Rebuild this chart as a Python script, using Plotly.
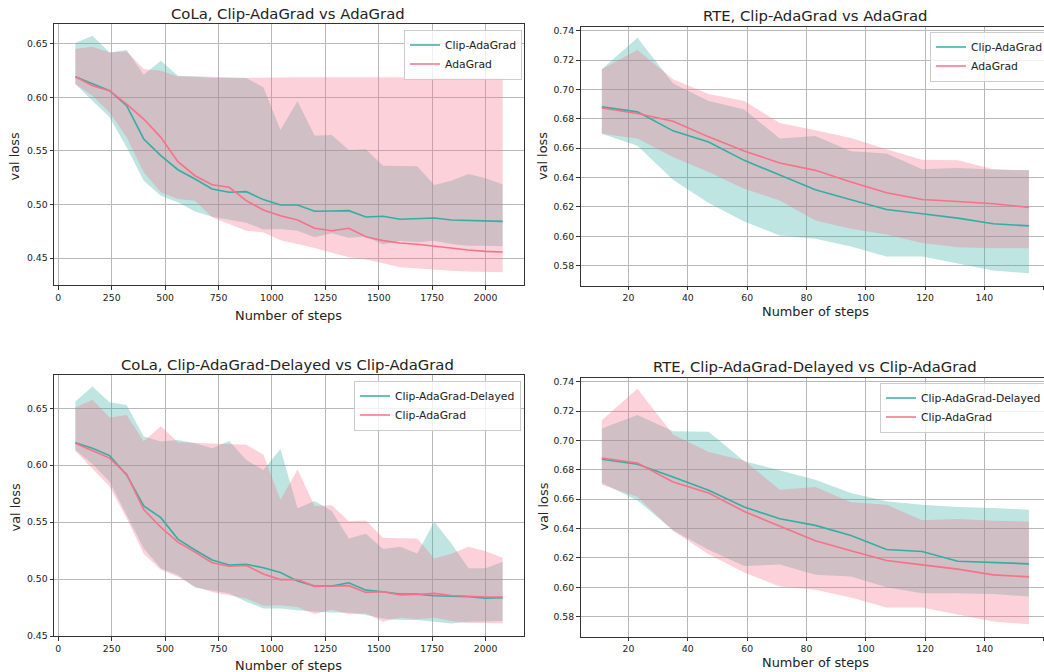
import plotly.graph_objects as go

# ---------------- data ----------------
cola_steps = [80, 160, 240, 320, 400, 480, 560, 640, 720, 800, 880, 960, 1040,
              1120, 1200, 1280, 1360, 1440, 1520, 1600, 1680, 1760, 1840, 1920, 2000, 2080]

cola_clip_mean = [0.6192, 0.6124, 0.6062, 0.5921, 0.5611, 0.5455, 0.5324, 0.5237, 0.5144, 0.5113, 0.5119, 0.5045, 0.4995,
                  0.4995, 0.4936, 0.4939, 0.4942, 0.4883, 0.4889, 0.4861, 0.4864, 0.4874, 0.4855, 0.4849, 0.4842, 0.4842]
cola_clip_hi = [0.6506, 0.6575, 0.6419, 0.6441, 0.6211, 0.6341, 0.6201, 0.6195, 0.6186, 0.6180, 0.6180, 0.6093, 0.5695,
                0.5962, 0.5642, 0.5648, 0.5508, 0.5514, 0.5362, 0.5359, 0.5356, 0.5181, 0.5222, 0.5284, 0.5244, 0.5188]
cola_clip_lo = [0.6124, 0.5968, 0.5813, 0.5533, 0.5222, 0.5082, 0.5020, 0.4933, 0.4886, 0.4855, 0.4830, 0.4765, 0.4770,
                0.4755, 0.4693, 0.4730, 0.4690, 0.4700, 0.4625, 0.4660, 0.4647, 0.4660, 0.4631, 0.4615, 0.4615, 0.4610]

cola_ada_mean = [0.6192, 0.6108, 0.6062, 0.5937, 0.5797, 0.5626, 0.5399, 0.5268, 0.5184, 0.5160, 0.5035, 0.4948, 0.4895,
                 0.4855, 0.4777, 0.4755, 0.4777, 0.4699, 0.4662, 0.4640, 0.4628, 0.4609, 0.4590, 0.4575, 0.4562, 0.4556]
cola_ada_hi = [0.6450, 0.6472, 0.6419, 0.6428, 0.6264, 0.6248, 0.6195, 0.6192, 0.6180, 0.6180, 0.6180, 0.6185, 0.6185,
               0.6188, 0.6185, 0.6185, 0.6186, 0.6186, 0.6186, 0.6186, 0.6186, 0.6186, 0.6185, 0.6185, 0.6185, 0.6185]
cola_ada_lo = [0.6124, 0.6015, 0.5859, 0.5626, 0.5300, 0.5113, 0.5051, 0.5035, 0.4880, 0.4817, 0.4755, 0.4740, 0.4665,
               0.4631, 0.4593, 0.4553, 0.4507, 0.4485, 0.4450, 0.4413, 0.4398, 0.4392, 0.4382, 0.4373, 0.4367, 0.4367]

cola_del_mean = [0.6198, 0.6148, 0.6084, 0.5914, 0.5642, 0.5539, 0.5351, 0.5255, 0.5167, 0.5123, 0.5129, 0.5100, 0.5058,
                 0.4982, 0.4938, 0.4938, 0.4968, 0.4903, 0.4889, 0.4868, 0.4868, 0.4853, 0.4850, 0.4845, 0.4833, 0.4836]
cola_del_hi = [0.6559, 0.6690, 0.6553, 0.6529, 0.6251, 0.6207, 0.6222, 0.6192, 0.6148, 0.6213, 0.6046, 0.5958, 0.6143,
               0.5621, 0.5685, 0.5598, 0.5357, 0.5398, 0.5264, 0.5284, 0.5225, 0.5504, 0.5313, 0.5094, 0.5094, 0.5152]
cola_del_lo = [0.6134, 0.6010, 0.5855, 0.5562, 0.5270, 0.5094, 0.5035, 0.4925, 0.4900, 0.4874, 0.4801, 0.4742, 0.4742,
               0.4727, 0.4713, 0.4707, 0.4707, 0.4684, 0.4654, 0.4640, 0.4640, 0.4625, 0.4610, 0.4625, 0.4625, 0.4631]

rte_steps = [11, 23, 35, 47, 59, 71, 83, 95, 107, 119, 131, 143, 155]

rte_clip_mean = [0.6881, 0.6847, 0.6718, 0.6642, 0.6517, 0.6415, 0.6317, 0.6249, 0.6183, 0.6153, 0.6124, 0.6085, 0.6071]
rte_clip_hi = [0.7138, 0.7352, 0.7041, 0.6922, 0.6863, 0.6665, 0.6683, 0.6579, 0.6563, 0.6456, 0.6465, 0.6454, 0.6449]
rte_clip_lo = [0.6699, 0.6617, 0.6385, 0.6226, 0.6101, 0.6005, 0.5983, 0.5930, 0.5862, 0.5862, 0.5817, 0.5767, 0.5748]

rte_ada_mean = [0.6874, 0.6836, 0.6783, 0.6677, 0.6581, 0.6499, 0.6449, 0.6369, 0.6297, 0.6251, 0.6237, 0.6222, 0.6197]
rte_ada_hi = [0.7138, 0.7268, 0.7070, 0.6968, 0.6922, 0.6772, 0.6722, 0.6670, 0.6592, 0.6522, 0.6517, 0.6456, 0.6449]
rte_ada_lo = [0.6699, 0.6665, 0.6540, 0.6438, 0.6324, 0.6244, 0.6108, 0.6051, 0.6012, 0.5955, 0.5926, 0.5919, 0.5919]

rte_del_mean = [0.6872, 0.6838, 0.6752, 0.6661, 0.6547, 0.6467, 0.6422, 0.6353, 0.6258, 0.6244, 0.6178, 0.6171, 0.6160]
rte_del_hi = [0.7081, 0.7173, 0.7063, 0.7059, 0.6859, 0.6798, 0.6733, 0.6642, 0.6586, 0.6563, 0.6547, 0.6540, 0.6529]
rte_del_lo = [0.6711, 0.6592, 0.6388, 0.6256, 0.6145, 0.6156, 0.6085, 0.6074, 0.6001, 0.5960, 0.5960, 0.5955, 0.5937]

titles = ["CoLa, Clip-AdaGrad vs AdaGrad", "RTE, Clip-AdaGrad vs AdaGrad",
          "CoLa, Clip-AdaGrad-Delayed vs Clip-AdaGrad", "RTE, Clip-AdaGrad-Delayed vs Clip-AdaGrad"]

# ---------------- style ----------------
W, H = 1044, 672
FONT = "DejaVu Sans"
TEAL = "#36ada4"
PINK = "#f77189"
TEAL_FILL = "rgba(54,173,164,0.32)"
PINK_FILL = "rgba(247,113,137,0.32)"
TXT = "#222222"

def px_x(p):
    return p / W

def px_y(p):
    return 1 - p / H

# panel: (x-domain px, y-domain px top/bottom, xrange, yrange, dtick x, dtick y, legend pos px)
panels = [
    dict(xd=(54, 524), yd=(24, 285), xr=[-20, 2180], yr=[0.4248, 0.6684], dx=250, dy=0.05,
         leg=(404, 29.5), title=(288.2, 13.5), xl=(288.4, 315), yl=(14.5, 157)),
    dict(xd=(580.5, 1044), yd=(26.7, 285.8), xr=[3.8, 160.1], yr=[0.5663, 0.7427], dx=20, dy=0.02,
         leg=(930, 31.5), title=(815.3, 15), xl=(815.3, 311.5), yl=(542.7, 156.4)),
    dict(xd=(54, 524), yd=(375, 636), xr=[-20, 2180], yr=[0.45, 0.6792], dx=250, dy=0.05,
         leg=(354, 380.5), title=(287.7, 364.3), xl=(288.4, 665.5), yl=(14.5, 508)),
    dict(xd=(580.5, 1044), yd=(377.8, 636.8), xr=[3.8, 160.1], yr=[0.5663, 0.7427], dx=20, dy=0.02,
         leg=(880, 382.5), title=(814.6, 366.1), xl=(815, 662), yl=(542.7, 507)),
]

series = [
    [("Clip-AdaGrad", cola_steps, cola_clip_mean, cola_clip_lo, cola_clip_hi, TEAL, TEAL_FILL),
     ("AdaGrad", cola_steps, cola_ada_mean, cola_ada_lo, cola_ada_hi, PINK, PINK_FILL)],
    [("Clip-AdaGrad", rte_steps, rte_clip_mean, rte_clip_lo, rte_clip_hi, TEAL, TEAL_FILL),
     ("AdaGrad", rte_steps, rte_ada_mean, rte_ada_lo, rte_ada_hi, PINK, PINK_FILL)],
    [("Clip-AdaGrad-Delayed", cola_steps, cola_del_mean, cola_del_lo, cola_del_hi, TEAL, TEAL_FILL),
     ("Clip-AdaGrad", cola_steps, cola_clip_mean, cola_clip_lo, cola_clip_hi, PINK, PINK_FILL)],
    [("Clip-AdaGrad-Delayed", rte_steps, rte_del_mean, rte_del_lo, rte_del_hi, TEAL, TEAL_FILL),
     ("Clip-AdaGrad", rte_steps, rte_clip_mean, rte_clip_lo, rte_clip_hi, PINK, PINK_FILL)],
]

fig = go.Figure()
layout = dict(
    width=W, height=H, template="none",
    margin=dict(l=0, r=0, t=0, b=0, autoexpand=False),
    paper_bgcolor="white", plot_bgcolor="white",
    font=dict(family=FONT, color=TXT),
    showlegend=True,
)
annotations = []

for i, (p, ser) in enumerate(zip(panels, series)):
    n = i + 1
    xa = "x" if n == 1 else f"x{n}"
    ya = "y" if n == 1 else f"y{n}"
    leg = "legend" if n == 1 else f"legend{n}"
    # bands
    for name, xs, m, lo, hi, col, fillc in ser:
        fig.add_trace(go.Scatter(
            x=list(xs) + list(xs)[::-1], y=list(hi) + list(lo)[::-1],
            fill="toself", fillcolor=fillc, line=dict(width=0), mode="lines",
            hoverinfo="skip", showlegend=False, xaxis=xa, yaxis=ya))
    # lines
    for name, xs, m, lo, hi, col, fillc in ser:
        fig.add_trace(go.Scatter(
            x=xs, y=m, mode="lines", name=name, line=dict(color=col, width=1.6),
            xaxis=xa, yaxis=ya, legend=leg))

    axis_common = dict(showgrid=True, gridcolor="#b8b8b8", gridwidth=1, zeroline=False,
                       showline=True, linecolor="#333333", linewidth=1, mirror=True,
                       ticks="outside", ticklen=3.5, tickwidth=1, tickcolor="#333333",
                       tickfont=dict(family=FONT, size=9.3, color=TXT))
    layout["xaxis" if n == 1 else f"xaxis{n}"] = dict(
        axis_common, domain=[px_x(p["xd"][0]), px_x(p["xd"][1])], range=p["xr"],
        tick0=0, dtick=p["dx"], anchor=ya)
    layout["yaxis" if n == 1 else f"yaxis{n}"] = dict(
        axis_common, domain=[px_y(p["yd"][1]), px_y(p["yd"][0])], range=p["yr"],
        tick0=0, dtick=p["dy"], tickformat=".2f", anchor=xa)
    layout[leg] = dict(x=px_x(p["leg"][0]), y=px_y(p["leg"][1]), xanchor="left", yanchor="top",
                       bgcolor="rgba(255,255,255,0.8)", bordercolor="#cccccc", borderwidth=1,
                       font=dict(family=FONT, size=10.8, color=TXT), itemwidth=30,
                       tracegroupgap=0)

    annotations.append(dict(text=titles[i], x=px_x(p["title"][0]), y=px_y(p["title"][1]),
                            xref="paper", yref="paper", xanchor="center", yanchor="middle",
                            showarrow=False, font=dict(family=FONT, size=14.8, color=TXT)))
    annotations.append(dict(text="Number of steps", x=px_x(p["xl"][0]), y=px_y(p["xl"][1]),
                            xref="paper", yref="paper", xanchor="center", yanchor="middle",
                            showarrow=False, font=dict(family=FONT, size=12.9, color=TXT)))
    annotations.append(dict(text="val loss", x=px_x(p["yl"][0]), y=px_y(p["yl"][1]),
                            xref="paper", yref="paper", xanchor="center", yanchor="middle",
                            textangle=-90, showarrow=False,
                            font=dict(family=FONT, size=12.9, color=TXT)))

layout["annotations"] = annotations
fig.update_layout(**layout)
fig.write_html("out.html")
